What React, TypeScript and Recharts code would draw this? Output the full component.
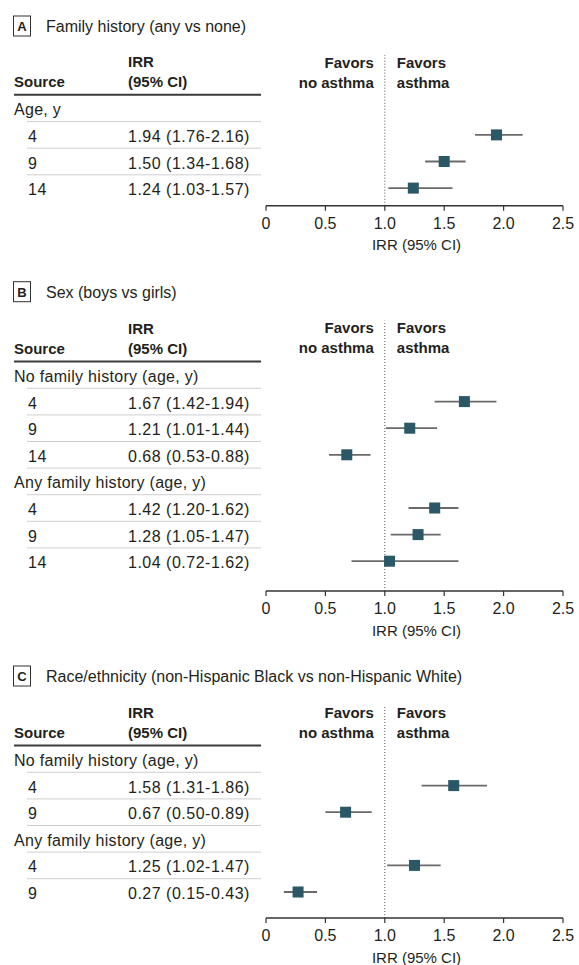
import React from 'react';
import { ScatterChart, Scatter, XAxis, YAxis, ErrorBar, ReferenceLine } from 'recharts';

// ---------- data ----------
const aTitle = 'Family history (any vs none)';
const aLabels = ['Age, y', '4', '9', '14'];
const aIrr = [null, 1.94, 1.5, 1.24];
const aLow = [null, 1.76, 1.34, 1.03];
const aHigh = [null, 2.16, 1.68, 1.57];

const bTitle = 'Sex (boys vs girls)';
const bLabels = ['No family history (age, y)', '4', '9', '14', 'Any family history (age, y)', '4', '9', '14'];
const bIrr = [null, 1.67, 1.21, 0.68, null, 1.42, 1.28, 1.04];
const bLow = [null, 1.42, 1.01, 0.53, null, 1.2, 1.05, 0.72];
const bHigh = [null, 1.94, 1.44, 0.88, null, 1.62, 1.47, 1.62];

const cTitle = 'Race/ethnicity (non-Hispanic Black vs non-Hispanic White)';
const cLabels = ['No family history (age, y)', '4', '9', 'Any family history (age, y)', '4', '9'];
const cIrr = [null, 1.58, 0.67, null, 1.25, 0.27];
const cLow = [null, 1.31, 0.5, null, 1.02, 0.15];
const cHigh = [null, 1.86, 0.89, null, 1.47, 0.43];

const xTicks = [0, 0.5, 1, 1.5, 2, 2.5];

// ---------- layout ----------
const W = 579;
const PITCH = 26.6;
const Y_AXIS_W = 266;
const RIGHT = 16;
const TEXT = '#231f20';
const SQUARE = '#2b5866';
const FONT = "'Liberation Sans', Arial, sans-serif";
const BOLD_FONT = "'Liberation Sans', Arial, sans-serif";

const layoutA = { top: 0, height: 262, plotTop: 55, row0: 108.3, axisY: 205.7 };
const layoutB = { top: 262, height: 383, plotTop: 320.7, row0: 375, axisY: 591 };
const layoutC = { top: 645, height: 320, plotTop: 705, row0: 759, axisY: 918 };

const fmt = (v: number) => v.toFixed(2);

type PanelProps = {
  letter: string;
  title: string;
  labels: string[];
  irr: (number | null)[];
  low: (number | null)[];
  high: (number | null)[];
  layout: { top: number; height: number; plotTop: number; row0: number; axisY: number };
};

function Panel({ letter, title, labels, irr, low, high, layout }: PanelProps) {
  const points = labels
    .map((_, i) =>
      irr[i] == null
        ? null
        : {
            row: i,
            irr: irr[i] as number,
            err: [(irr[i] as number) - (low[i] as number), (high[i] as number) - (irr[i] as number)],
          }
    )
    .filter(Boolean) as { row: number; irr: number; err: number[] }[];

  const rowTicks = labels.map((_, i) => i);
  const yMin = (layout.plotTop - layout.row0) / PITCH;
  const yMax = (layout.axisY - layout.row0) / PITCH;
  const marginTop = layout.plotTop - layout.top;
  const xAxisHeight = layout.top + layout.height - layout.axisY;
  const headToPlot = layout.row0 - layout.plotTop;

  const RowTick = (props: any) => {
    const { y, payload } = props;
    const i = payload.value as number;
    const isGroup = irr[i] == null;
    const base = y + 7;
    return (
      <g>
        {i === 0 && (
          <g>
            {/* panel title */}
            <rect x={13.5} y={y - headToPlot - 23 - 16} width={17} height={20} fill="#fff" stroke="#333" strokeWidth={1} />
            <text x={22} y={y - headToPlot - 23 - 1} textAnchor="middle" fontSize={13} fontWeight="bold" fill={TEXT} fontFamily={BOLD_FONT}>
              {letter}
            </text>
            <text x={46} y={y - headToPlot - 23} fontSize={16} fill={TEXT} fontFamily={FONT}>
              {title}
            </text>
            {/* header */}
            <text x={14} y={y - 21} fontSize={15} fontWeight="bold" fill={TEXT} fontFamily={BOLD_FONT}>
              Source
            </text>
            <text x={128} y={y - 41} fontSize={15} fontWeight="bold" fill={TEXT} fontFamily={BOLD_FONT}>
              IRR
            </text>
            <text x={128} y={y - 21} fontSize={15} fontWeight="bold" fill={TEXT} fontFamily={BOLD_FONT}>
              (95% CI)
            </text>
            <line x1={14} x2={261} y1={y - 13.5} y2={y - 13.5} stroke="#3a3a3a" strokeWidth={2} />
          </g>
        )}
        {i > 0 && <line x1={27} x2={261} y1={y - PITCH / 2} y2={y - PITCH / 2} stroke="#cfcfcf" strokeWidth={1} />}
        {isGroup ? (
          <text x={14} y={base} fontSize={16} fill={TEXT} fontFamily={FONT} letterSpacing={0.3}>
            {labels[i]}
          </text>
        ) : (
          <g>
            <text x={28} y={base} fontSize={16} fill={TEXT} fontFamily={FONT} letterSpacing={0.5}>
              {labels[i]}
            </text>
            <text x={128} y={base} fontSize={16} fill={TEXT} fontFamily={FONT} letterSpacing={0.5}>
              {`${fmt(irr[i] as number)} (${fmt(low[i] as number)}-${fmt(high[i] as number)})`}
            </text>
          </g>
        )}
      </g>
    );
  };

  const favorsLabel = (p: any) => {
    const vb = p.viewBox || {};
    const x = vb.x;
    const y = vb.y;
    return (
      <g fontFamily={BOLD_FONT} fontWeight="bold" fontSize={15} fill={TEXT}>
        <text x={x - 11} y={y + 12.5} textAnchor="end">Favors</text>
        <text x={x - 11} y={y + 32.5} textAnchor="end">no asthma</text>
        <text x={x + 12} y={y + 12.5}>Favors</text>
        <text x={x + 12} y={y + 32.5}>asthma</text>
      </g>
    );
  };

  const xLabel = (p: any) => {
    const vb = p.viewBox || {};
    return (
      <text x={vb.x + vb.width / 2 + 2} y={vb.y + 44.5} textAnchor="middle" fontSize={15} fill={TEXT} fontFamily={FONT}>
        IRR (95% CI)
      </text>
    );
  };

  const square = (p: any) => (
    <rect x={p.cx - 5.5} y={p.cy - 5.5} width={11} height={11} fill={SQUARE} />
  );

  return (
    <div style={{ position: 'absolute', left: 0, top: layout.top, width: W, height: layout.height }}>
      <ScatterChart
        width={W}
        height={layout.height}
        margin={{ top: marginTop, right: RIGHT, bottom: 0, left: 0 }}
      >
        <XAxis
          type="number"
          dataKey="irr"
          domain={[0, 2.5]}
          ticks={xTicks}
          interval={0}
          allowDataOverflow
          height={xAxisHeight}
          tickFormatter={(v: number) => (v === 0 ? '0' : v.toFixed(1))}
          tick={{ fill: TEXT, fontSize: 16, fontFamily: FONT }}
          tickSize={5}
          tickMargin={7}
          axisLine={{ stroke: '#333', strokeWidth: 1.5 }}
          tickLine={{ stroke: '#333', strokeWidth: 1.2 }}
          label={xLabel}
        />
        <YAxis
          type="number"
          dataKey="row"
          domain={[yMin, yMax]}
          reversed
          allowDataOverflow
          ticks={rowTicks}
          interval={0}
          width={Y_AXIS_W}
          axisLine={false}
          tickLine={false}
          tick={<RowTick />}
        />
        <ReferenceLine x={1} stroke="#555" strokeDasharray="1 2" strokeWidth={1} label={favorsLabel} />
        <Scatter data={points} isAnimationActive={false} shape={square}>
          <ErrorBar dataKey="err" direction="x" width={0} stroke="#6a6a6a" strokeWidth={1.8} isAnimationActive={false} />
        </Scatter>
      </ScatterChart>
    </div>
  );
}

export default function App() {
  return (
    <div style={{ position: 'absolute', left: 0, top: 0, width: W, height: 965, background: '#fff', fontFamily: FONT }}>
      <Panel letter="A" title={aTitle} labels={aLabels} irr={aIrr} low={aLow} high={aHigh} layout={layoutA} />
      <Panel letter="B" title={bTitle} labels={bLabels} irr={bIrr} low={bLow} high={bHigh} layout={layoutB} />
      <Panel letter="C" title={cTitle} labels={cLabels} irr={cIrr} low={cLow} high={cHigh} layout={layoutC} />
    </div>
  );
}
